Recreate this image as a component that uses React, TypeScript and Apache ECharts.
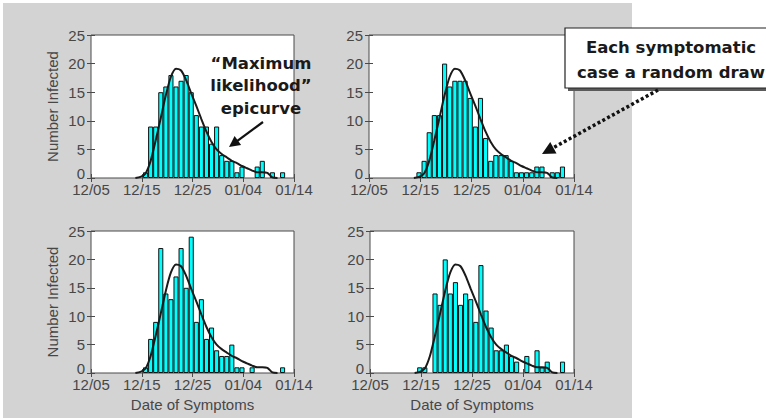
import React, { useEffect, useRef } from 'react';
import * as echarts from 'echarts';

// x axis: days after 12/05 (0 = 12/05, 40 = 01/14)
const xTickLabels = ['12/05', '12/15', '12/25', '01/04', '01/14'];
const xTickStep = 10;
const xMax = 40;
const yMax = 25;
const yStep = 5;

// daily counts; first bar centre (days after 12/05) given by *FirstDay
const tlFirstDay = 10.75;
const tlCounts = [1, 9, 9, 15, 16, 18, 16, 17, 18, 15, 11, 9, 9, 6, 9, 4, 3, 3, 1, 2, 0, 0, 2, 3, 0, 1, 0, 1];
const trFirstDay = 9.75;
const trCounts = [1, 3, 8, 11, 11, 20, 16, 17, 17, 17, 14, 9, 14, 7, 3, 4, 4, 4, 3, 1, 1, 1, 1, 2, 2, 0, 1, 1, 2];
const blFirstDay = 10.75;
const blCounts = [1, 6, 9, 22, 14, 13, 17, 22, 15, 24, 9, 13, 6, 8, 4, 3, 3, 5, 1, 1, 0, 1, 0, 0, 0, 0, 0, 1];
const brFirstDay = 9.75;
const brCounts = [1, 1, 0, 14, 12, 20, 14, 16, 12, 14, 13, 9, 19, 11, 8, 4, 4, 5, 3, 2, 0, 3, 0, 4, 1, 2, 0, 0, 2];

// "maximum likelihood" epicurve (same in all panels)
const curveFirstDay = 8.75;
const curveValues = [0, 0.2, 0.8, 3.0, 6.6, 10.5, 14.5, 17.7, 19.1, 18.8, 17.1, 14.8, 12.6, 10.3, 8.1, 6.3, 5.0, 4.2, 3.6, 3.0, 2.6, 2.1, 1.7, 1.3, 1.0, 1.0, 0.9, 0.1, 0];

const yAxisTitle = 'Number Infected';
const xAxisTitle = 'Date of Symptoms';
const noteLeft = ['\u201cMaximum', 'likelihood\u201d', 'epicurve'];
const noteRight = ['Each symptomatic', 'case a random draw'];

const panels = [
  { first: tlFirstDay, counts: tlCounts, grid: { left: 91, top: 35, width: 203, height: 143 }, yName: true, xName: false },
  { first: trFirstDay, counts: trCounts, grid: { left: 369, top: 35, width: 205, height: 143 }, yName: false, xName: false },
  { first: blFirstDay, counts: blCounts, grid: { left: 91, top: 231, width: 203, height: 142 }, yName: true, xName: true },
  { first: brFirstDay, counts: brCounts, grid: { left: 370, top: 231, width: 204, height: 142 }, yName: false, xName: true },
];

const labelFont = { fontFamily: 'Liberation Sans, Arial, sans-serif', fontSize: 15, color: '#474747' };
const noteFont = 'DejaVu Sans, sans-serif';

function arrow(x1: number, y1: number, x2: number, y2: number, headLen: number, headHalf: number, lw: number, dash?: number[]) {
  const dx = x2 - x1;
  const dy = y2 - y1;
  const len = Math.sqrt(dx * dx + dy * dy);
  const ux = dx / len;
  const uy = dy / len;
  const bx = x2 - ux * headLen;
  const by = y2 - uy * headLen;
  const nx = -uy;
  const ny = ux;
  return [
    {
      type: 'line',
      z: 100,
      shape: { x1, y1, x2: bx + ux * 1, y2: by + uy * 1 },
      style: { stroke: '#111', lineWidth: lw, lineDash: dash },
    },
    {
      type: 'polygon',
      z: 100,
      shape: {
        points: [
          [x2, y2],
          [bx + nx * headHalf, by + ny * headHalf],
          [bx - nx * headHalf, by - ny * headHalf],
        ],
      },
      style: { fill: '#111' },
    },
  ];
}

export default function App() {
  const ref = useRef<HTMLDivElement>(null);
  useEffect(() => {
    if (!ref.current) return;
    const chart = echarts.init(ref.current, undefined, { renderer: 'svg' });

    const grid: any[] = [];
    const xAxis: any[] = [];
    const yAxis: any[] = [];
    const series: any[] = [];
    const curveData = curveValues.map((v, i) => [curveFirstDay + i, v]);

    panels.forEach((p, i) => {
      grid.push({
        ...p.grid,
        show: true,
        backgroundColor: '#ffffff',
        borderColor: '#4a4a4a',
        borderWidth: 1,
        containLabel: false,
      });
      const tick = { show: true, inside: true, length: 4, lineStyle: { color: '#4a4a4a', width: 1 } };
      xAxis.push({
        type: 'value',
        gridIndex: i,
        position: 'bottom',
        min: 0,
        max: xMax,
        interval: xTickStep,
        splitLine: { show: false },
        axisLine: { show: false },
        axisTick: tick,
        axisLabel: {
          ...labelFont,
          margin: 5,
          lineHeight: 12,
          formatter: (v: number) => xTickLabels[Math.round(v / xTickStep)] ?? '',
        },
        name: p.xName ? xAxisTitle : '',
        nameLocation: 'middle',
        nameGap: 24,
        nameTextStyle: { ...labelFont },
      });
      xAxis.push({
        type: 'value',
        gridIndex: i,
        position: 'top',
        min: 0,
        max: xMax,
        interval: xTickStep,
        splitLine: { show: false },
        axisLine: { show: false },
        axisTick: tick,
        axisLabel: { show: false },
      });
      yAxis.push({
        type: 'value',
        gridIndex: i,
        position: 'left',
        min: 0,
        max: yMax,
        interval: yStep,
        splitLine: { show: false },
        axisLine: { show: false },
        axisTick: tick,
        axisLabel: { ...labelFont, margin: 6, lineHeight: 10, verticalAlignMinLabel: 'bottom' },
        name: p.yName ? yAxisTitle : '',
        nameLocation: 'middle',
        nameGap: 31,
        nameTextStyle: { ...labelFont },
      });
      yAxis.push({
        type: 'value',
        gridIndex: i,
        position: 'right',
        min: 0,
        max: yMax,
        interval: yStep,
        splitLine: { show: false },
        axisLine: { show: false },
        axisTick: tick,
        axisLabel: { show: false },
      });
      series.push({
        type: 'bar',
        xAxisIndex: 2 * i,
        yAxisIndex: 2 * i,
        barWidth: p.grid.width / xMax,
        data: p.counts.map((c, k) => [p.first + k, c]).filter((d) => d[1] > 0),
        itemStyle: { color: '#00ffff', borderColor: '#111', borderWidth: 1 },
        z: 2,
      });
      series.push({
        type: 'line',
        xAxisIndex: 2 * i,
        yAxisIndex: 2 * i,
        data: curveData,
        showSymbol: false,
        smooth: 0.25,
        lineStyle: { color: '#1a1a1a', width: 2 },
        z: 3,
      });
    });

    const graphic: any[] = [
      {
        type: 'rect',
        z: -100,
        silent: true,
        shape: { x: 3, y: 3, width: 629, height: 415 },
        style: { fill: '#d3d3d3' },
      },
      ...noteLeft.map((t, k) => ({
        type: 'text',
        z: 100,
        x: 261,
        y: 63 + k * 22.5,
        style: {
          text: t,
          fontFamily: noteFont,
          fontWeight: 'bold',
          fontSize: 16.5,
          fill: '#1a1a1a',
          align: 'center',
          verticalAlign: 'middle',
        },
      })),
      ...arrow(263, 122, 229, 147, 11, 5.5, 2.2),
      {
        type: 'rect',
        z: 99,
        shape: { x: 568, y: 31, width: 220, height: 60 },
        style: { fill: '#5a5a5a' },
      },
      {
        type: 'rect',
        z: 100,
        shape: { x: 565, y: 28, width: 220, height: 60 },
        style: { fill: '#ffffff', stroke: '#222', lineWidth: 1.2 },
      },
      ...noteRight.map((t, k) => ({
        type: 'text',
        z: 101,
        x: 671,
        y: 47 + k * 25,
        style: {
          text: t,
          fontFamily: noteFont,
          fontWeight: 'bold',
          fontSize: 16.5,
          fill: '#1a1a1a',
          align: 'center',
          verticalAlign: 'middle',
        },
      })),
      ...arrow(658, 90, 542, 154, 13, 6.5, 3.5, [3, 2.5]),
    ];

    chart.setOption({
      animation: false,
      backgroundColor: '#ffffff',
      grid,
      xAxis,
      yAxis,
      series,
      graphic,
    });
    return () => chart.dispose();
  }, []);
  return <div ref={ref} style={{ position: 'absolute', left: 0, top: 0, width: 766, height: 418 }} />;
}
